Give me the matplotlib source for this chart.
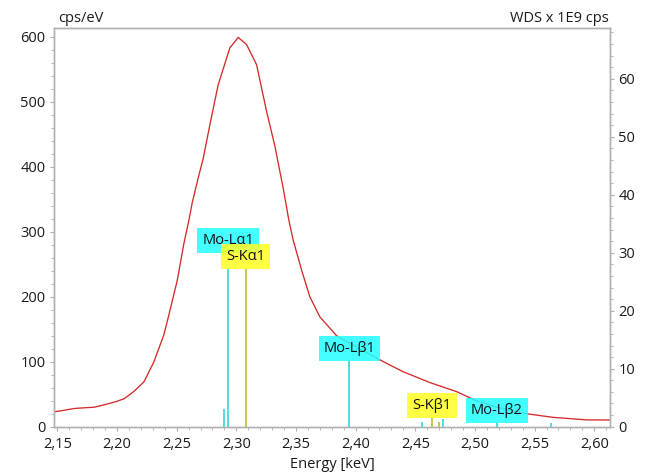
import matplotlib
matplotlib.use("Agg")
import matplotlib.pyplot as plt
from matplotlib.ticker import MultipleLocator, FuncFormatter

plt.rcParams['font.family'] = ['Open Sans', 'DejaVu Sans']

# Spectrum (cps/eV) vs energy (keV)
energy = [2.1475, 2.155, 2.164, 2.172, 2.181, 2.190, 2.199, 2.206, 2.214, 2.2226,
          2.231, 2.2394, 2.2435, 2.2505, 2.2561, 2.2603, 2.2631, 2.2681, 2.2723, 2.2779,
          2.2848, 2.2946, 2.3016, 2.3086, 2.317, 2.3254, 2.3323, 2.3393, 2.344, 2.3477,
          2.3547, 2.3616, 2.370, 2.384, 2.3951, 2.4259, 2.4398, 2.4621, 2.4845, 2.501,
          2.518, 2.543, 2.5654, 2.5934, 2.613]
cps = [23, 25, 28, 29, 30, 34, 38.5, 43, 54, 69,
       100, 142, 172, 225, 282, 318, 345, 383, 413, 465,
       526, 583, 599, 588, 557, 485, 432, 367, 318, 287,
       241, 200, 169, 140, 128, 97.5, 84.6, 68, 54, 40,
       30, 20, 14.4, 10.5, 10.3]

# WDS line markers (x 1E9 cps)
line_energy = [2.2895, 2.2932, 2.3078, 2.3948, 2.4556, 2.4640, 2.4697, 2.4736, 2.5183, 2.5641]
line_height = [3.05, 27.2, 27.2, 11.3, 0.85, 1.55, 0.85, 1.27, 0.6, 0.6]
line_element = ['Mo', 'Mo', 'S', 'Mo', 'Mo', 'S', 'S', 'Mo', 'Mo', 'Mo']

labels = ['Mo-Lα1', 'S-Kα1', 'Mo-Lβ1', 'S-Kβ1', 'Mo-Lβ2']
label_energy = [2.2932, 2.3078, 2.3948, 2.4640, 2.5183]
label_element = ['Mo', 'S', 'Mo', 'S', 'Mo']
label_base = [30.0, 27.2, 11.3, 1.55, 0.6]   # bottom of label box

xticks = [2.15, 2.20, 2.25, 2.30, 2.35, 2.40, 2.45, 2.50, 2.55, 2.60]

line_col = {'Mo': '#40dcdc', 'S': '#c8c040'}
box_col = {'Mo': '#22ffff', 'S': '#ffff22'}

fig = plt.figure(figsize=(6.46, 4.74), dpi=100)
ax = fig.add_axes([0.0841, 0.0998, 0.8606, 0.8418])
ax2 = ax.twinx()

ax.plot(energy, cps, color='#d42a2a', lw=0.95)
ax.set_xlim(2.1475, 2.6134)
ax.set_ylim(0, 614)
ax2.set_ylim(0, 68.8)

for e, h, el in zip(line_energy, line_height, line_element):
    ax2.vlines(e, 0, h, color=line_col[el], lw=1.3)

fs_lab = 10.5
pad = 0.34
pad_units = pad * fs_lab / 72 * 100 / 5.8   # pad in right-axis data units
for t, e, el, b in zip(labels, label_energy, label_element, label_base):
    ax2.text(e, b + pad_units, t, ha='center', va='bottom', fontsize=fs_lab, color='#111111',
             bbox=dict(boxstyle=f'square,pad={pad}', fc=box_col[el], ec='none', alpha=0.85))

ax.set_xticks(xticks)
ax.xaxis.set_minor_locator(MultipleLocator(0.01))
ax.xaxis.set_major_formatter(FuncFormatter(lambda v, p: f"{v:.2f}".replace('.', ',')))
ax.yaxis.set_major_locator(MultipleLocator(100))
ax.yaxis.set_minor_locator(MultipleLocator(20))
ax2.yaxis.set_major_locator(MultipleLocator(10))
ax2.yaxis.set_minor_locator(MultipleLocator(2))

spine_col = '#b0b0b0'
for a in (ax, ax2):
    for s in a.spines.values():
        s.set_color(spine_col)
        s.set_linewidth(1.0)
    a.tick_params(which='both', color=spine_col, labelcolor='#1a1a1a', labelsize=10.5)
    a.tick_params(which='major', length=3.2)
    a.tick_params(which='minor', length=2.5)
ax.tick_params(axis='y', pad=3)
ax.tick_params(axis='x', pad=4)
ax2.tick_params(axis='y', pad=2.5)

ax.set_xlabel('Energy [keV]', fontsize=10.5, color='#1a1a1a', labelpad=4)
fig.text(58 / 646, 1 - 22 / 474, 'cps/eV', ha='left', va='baseline', fontsize=10.5, color='#1a1a1a')
fig.text(609 / 646, 1 - 22 / 474, 'WDS x 1E9 cps', ha='right', va='baseline', fontsize=10.5, color='#1a1a1a')

fig.savefig('out.png', dpi=100)
